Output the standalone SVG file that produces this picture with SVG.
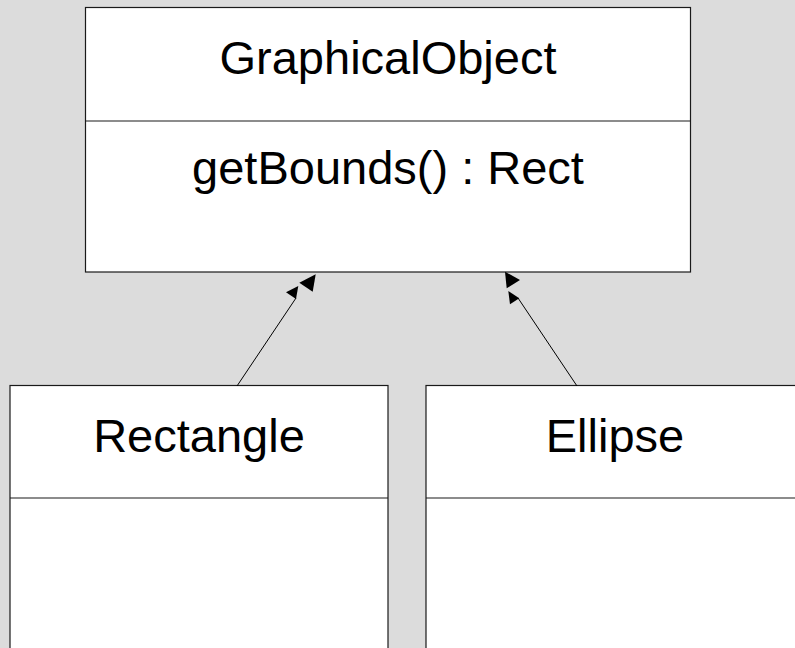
<svg xmlns="http://www.w3.org/2000/svg" width="795" height="648" viewBox="0 0 795 648">
  <style>
    .box { fill: #ffffff; stroke: #1a1a1a; stroke-width: 1.2; }
    .sep { stroke: #1a1a1a; stroke-width: 1.2; }
    .label { font-family: "Liberation Sans", Arial, sans-serif; font-size: 47px; fill: #000000; text-anchor: middle; }
    .edge { stroke: #000000; stroke-width: 1; fill: none; }
    .head { fill: #000000; stroke: none; }
  </style>
  <rect x="0" y="0" width="795" height="648" fill="#dcdcdc"/>

  <!-- superclass -->
  <g id="graphical-object">
    <rect class="box" x="85.5" y="7.5" width="605" height="264.5"/>
    <line class="sep" x1="85.5" y1="121" x2="690.5" y2="121"/>
    <text class="label" x="388" y="74">GraphicalObject</text>
    <text class="label" x="388" y="184">getBounds() : Rect</text>
  </g>

  <!-- subclasses -->
  <g id="rectangle">
    <rect class="box" x="10" y="385.5" width="378" height="280"/>
    <line class="sep" x1="10" y1="498" x2="388" y2="498"/>
    <text class="label" x="199" y="452">Rectangle</text>
  </g>
  <g id="ellipse">
    <rect class="box" x="426" y="385.5" width="378" height="280"/>
    <line class="sep" x1="426" y1="498" x2="804" y2="498"/>
    <text class="label" x="615" y="452">Ellipse</text>
  </g>

  <!-- generalisation connectors -->
  <g id="connectors">
    <line class="edge" x1="237" y1="386" x2="296" y2="298"/>
    <polygon class="head" points="298.3,286 286,292.3 296,299"/>
    <polygon class="head" points="315.7,274.3 299.3,282.7 312.7,291.7"/>

    <line class="edge" x1="577" y1="386" x2="518" y2="298"/>
    <polygon class="head" points="508.3,291 519.3,298.3 510,304.3"/>
    <polygon class="head" points="505,271.7 520,280 506.7,288.3"/>
  </g>
</svg>
